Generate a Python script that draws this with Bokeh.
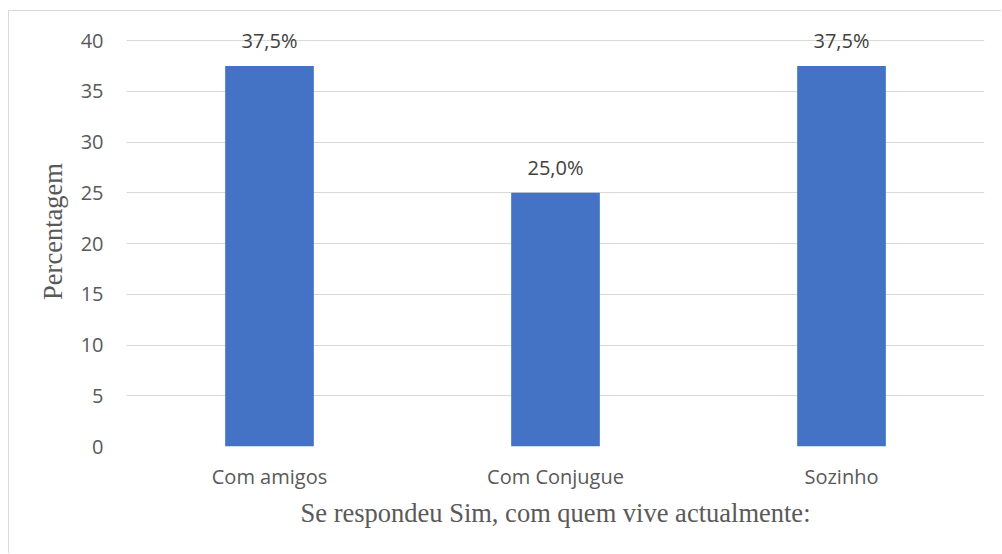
from bokeh.plotting import figure
from bokeh.models import ColumnDataSource, LabelSet, FactorRange, Range1d
from bokeh.core.properties import value
from bokeh.embed import file_html
from bokeh.resources import INLINE

# Data
categories = ["Com amigos", "Com Conjugue", "Sozinho"]
percentages = [37.5, 25.0, 37.5]
y_ticks = [0, 5, 10, 15, 20, 25, 30, 35, 40]

value_labels = [f"{v:.1f}%".replace(".", ",") for v in percentages]
source = ColumnDataSource(dict(cat=categories, pct=percentages, lbl=value_labels))

# Frame spans 430 px; 0..40 covers 406 px, the rest is headroom for the labels
y_top = 40 * 430 / 406

p = figure(
    x_range=FactorRange(*categories, range_padding=0),
    y_range=Range1d(0, y_top),
    width=993, height=543,
    output_backend="svg", toolbar_location=None,
    min_border_left=117, min_border_right=18,
    min_border_top=5, min_border_bottom=108,
)
p.styles = {
    "border-top": "1px solid #d9d9d9",
    "border-left": "1px solid #d9d9d9",
    "margin-left": "8px",
    "margin-top": "10px",
}
p.outline_line_color = None
p.background_fill_color = "white"
p.border_fill_color = "white"

p.vbar(x="cat", top="pct", width=0.31, source=source,
       fill_color="#4472C4", line_color=None)

labels = LabelSet(x="cat", y="pct", text="lbl", source=source,
                  text_align="center", text_baseline="middle", y_offset=25,
                  text_font=value("Open Sans"), text_font_size="20px",
                  text_color="#404040")
p.add_layout(labels)

# Grid
p.xgrid.visible = False
p.ygrid.grid_line_color = "#d9d9d9"
p.ygrid.grid_line_width = 1

# Axes
p.yaxis.ticker = y_ticks
for ax in (p.xaxis[0], p.yaxis[0]):
    ax.axis_line_color = None
    ax.major_tick_line_color = None
    ax.minor_tick_line_color = None
    ax.major_label_text_font = "Open Sans"
    ax.major_label_text_font_size = "20px"
    ax.major_label_text_color = "#595959"
    ax.axis_label_text_font = "Liberation Serif"
    ax.axis_label_text_font_size = "26.5px"
    ax.axis_label_text_font_style = "normal"
    ax.axis_label_text_color = "#595959"

p.yaxis.axis_label = "Percentagem"
p.yaxis.major_label_standoff = 17
p.yaxis.axis_label_standoff = 10
p.xaxis.axis_label = "Se respondeu Sim, com quem vive actualmente:"
p.xaxis.major_label_standoff = 10
p.xaxis.axis_label_standoff = 5

open("out.html", "w").write(file_html(p, INLINE))
